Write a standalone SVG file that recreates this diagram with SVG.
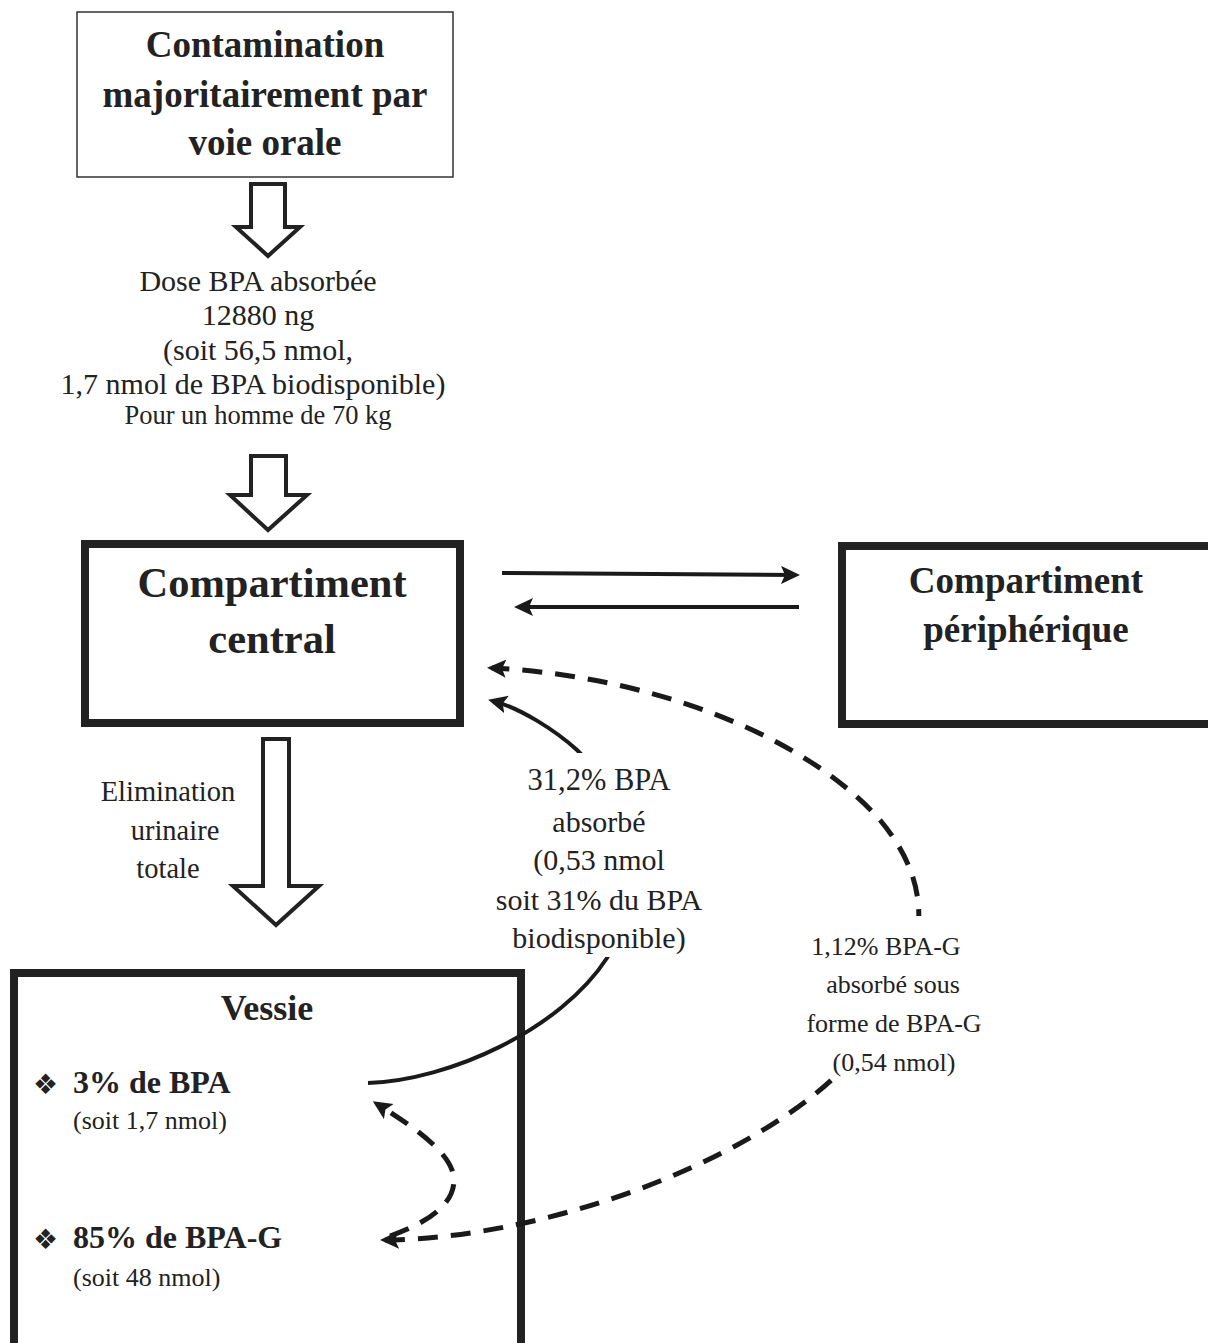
<svg xmlns="http://www.w3.org/2000/svg" width="1208" height="1343" viewBox="0 0 1208 1343">
<style>
.bg{fill:#fff}
.box{fill:#fff;stroke:#222;stroke-width:8}
.thin{fill:#fff;stroke:#333;stroke-width:1.5}
.blk{fill:#fff;stroke:#222;stroke-width:4;stroke-linejoin:miter}
.t{font-family:"Liberation Serif","Times New Roman",serif;fill:#222;text-anchor:middle}
.b{font-weight:bold}
.l{text-anchor:start}
.sym{font-family:"DejaVu Sans",sans-serif;fill:#222}
.con{fill:none;stroke:#1a1a1a;stroke-width:4}
.dash{fill:none;stroke:#1a1a1a;stroke-width:5;stroke-dasharray:20 13}
.lab{fill:#fff}
</style>
<defs>
<marker id="ah" markerUnits="userSpaceOnUse" markerWidth="22" markerHeight="20" refX="14" refY="9" orient="auto-start-reverse" viewBox="0 0 22 20">
<path d="M0,0 L19,9 L0,18 L4,9 z" fill="#1a1a1a"/>
</marker>
</defs>
<rect class="bg" x="0" y="0" width="1208" height="1343"/>

<g id="contamination">
<rect class="thin" x="77" y="12" width="376" height="165"/>
<text class="t b" font-size="37" x="265" y="57">Contamination</text>
<text class="t b" font-size="37" x="265" y="107">majoritairement par</text>
<text class="t b" font-size="37" x="265" y="155">voie orale</text>
</g>

<g id="arrow-dose">
<polygon class="blk" points="251,184 285,184 285,227 300,227 268,256 236,227 251,227"/>
</g>

<g id="dose">
<text class="t" font-size="30" x="258" y="291">Dose BPA absorbée</text>
<text class="t" font-size="30" x="258" y="325">12880 ng</text>
<text class="t" font-size="30" x="258" y="360">(soit 56,5 nmol,</text>
<text class="t" font-size="30" x="253" y="394">1,7 nmol de BPA biodisponible)</text>
<text class="t" font-size="26.5" x="258" y="424">Pour un homme de 70 kg</text>
</g>

<g id="arrow-central">
<polygon class="blk" points="251,456 286,456 286,495 307,495 268,530 230,495 251,495"/>
</g>

<g id="central">
<rect class="box" x="85" y="544" width="375" height="179"/>
<text class="t b" font-size="42.5" x="272" y="597">Compartiment</text>
<text class="t b" font-size="42.5" x="272" y="653">central</text>
</g>

<g id="peripherique">
<rect class="box" x="842" y="546" width="420" height="178"/>
<text class="t b" font-size="37" x="1026" y="593">Compartiment</text>
<text class="t b" font-size="37" x="1026" y="642">périphérique</text>
</g>

<g id="arrow-elimination">
<polygon class="blk" points="263,739 289,739 289,886 319,886 276,925 233,886 263,886"/>
</g>

<g id="elimination">
<text class="t" font-size="28.5" x="168" y="801">Elimination</text>
<text class="t" font-size="28.5" x="175" y="840">urinaire</text>
<text class="t" font-size="28.5" x="168" y="878">totale</text>
</g>

<g id="vessie">
<rect class="box" x="14" y="973" width="507" height="390" stroke-width="7"/>
<text class="t b" font-size="36" x="267" y="1020">Vessie</text>
<text class="sym" font-size="28" x="33" y="1094">❖</text>
<text class="t b l" font-size="32" x="73" y="1093">3% de BPA</text>
<text class="t l" font-size="26" x="73" y="1129">(soit 1,7 nmol)</text>
<text class="sym" font-size="28" x="33" y="1249">❖</text>
<text class="t b l" font-size="32" x="73" y="1248">85% de BPA-G</text>
<text class="t l" font-size="26" x="73" y="1286">(soit 48 nmol)</text>
</g>

<g id="connectors">
<path class="con" d="M502,573 L795,575" marker-end="url(#ah)"/>
<path class="con" d="M799,607 L519,607" marker-end="url(#ah)"/>
<path class="con" d="M368,1083 C450,1080 560,1030 607,958 C640,908 630,800 577,750 C555,730 520,708 493,701" marker-end="url(#ah)"/>
<path class="dash" d="M385,1240 C560,1238 780,1150 860,1050 C940,950 930,880 880,820 C800,730 640,675 492,668" marker-start="url(#ah)" marker-end="url(#ah)"/>
<path class="dash" d="M390,1236 C430,1222 462,1200 452,1170 C443,1145 402,1120 377,1104" marker-end="url(#ah)"/>
</g>

<g id="label-bpa">
<rect class="lab" x="488" y="753" width="225" height="204"/>
<text class="t" font-size="30.5" x="599" y="790">31,2% BPA</text>
<text class="t" font-size="30" x="599" y="832">absorbé</text>
<text class="t" font-size="30" x="599" y="870">(0,53 nmol</text>
<text class="t" font-size="30" x="599" y="910">soit 31% du BPA</text>
<text class="t" font-size="30" x="599" y="948">biodisponible)</text>
</g>

<g id="label-bpag">
<rect class="lab" x="780" y="916" width="225" height="161"/>
<text class="t" font-size="26" x="886" y="955">1,12% BPA-G</text>
<text class="t" font-size="26" x="893" y="993">absorbé sous</text>
<text class="t" font-size="26" x="894" y="1032">forme de BPA-G</text>
<text class="t" font-size="26" x="894" y="1071">(0,54 nmol)</text>
</g>
</svg>
